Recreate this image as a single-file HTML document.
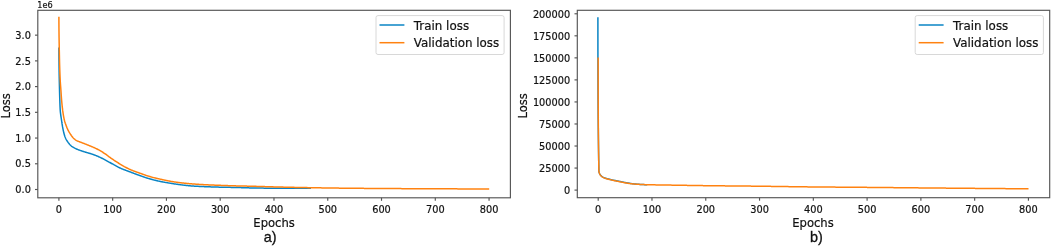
<!DOCTYPE html><html><head><meta charset="utf-8"><title>Loss curves</title><style>html,body{margin:0;padding:0;background:#fff}body{width:1052px;height:246px;overflow:hidden}</style></head><body><svg width="1052" height="246" viewBox="0 0 1052 246" style="display:block">
<rect width="1052" height="246" fill="#fff"/>
<g font-family="'DejaVu Sans','Liberation Sans',sans-serif" fill="#111" stroke="#111" stroke-width="0.2">
<polyline fill="none" stroke="#0a84c4" stroke-width="1.5" stroke-linejoin="round" points="58.90,47.60 58.90,48.10 58.90,48.60 58.90,49.10 58.91,49.60 58.91,50.10 58.91,50.60 58.91,51.10 58.92,51.60 58.92,52.10 58.92,52.60 58.92,53.10 58.93,53.60 58.93,54.10 58.93,54.60 58.94,55.10 58.94,55.60 58.95,56.10 58.95,56.60 58.96,57.10 58.96,57.60 58.96,58.10 58.97,58.60 58.97,59.10 58.98,59.60 58.98,60.10 58.99,60.60 58.99,61.10 59.00,61.60 59.01,62.10 59.01,62.60 59.02,63.10 59.02,63.60 59.03,64.10 59.03,64.60 59.04,65.10 59.05,65.60 59.05,66.10 59.06,66.60 59.06,67.10 59.07,67.60 59.08,68.10 59.08,68.60 59.09,69.10 59.09,69.60 59.10,70.10 59.11,70.60 59.11,71.10 59.12,71.60 59.13,72.10 59.14,72.60 59.15,73.10 59.15,73.60 59.16,74.10 59.17,74.60 59.18,75.10 59.19,75.60 59.20,76.10 59.21,76.60 59.22,77.10 59.23,77.60 59.24,78.10 59.25,78.60 59.27,79.10 59.28,79.60 59.29,80.10 59.30,80.60 59.31,81.10 59.32,81.60 59.33,82.10 59.34,82.60 59.36,83.10 59.37,83.60 59.38,84.10 59.39,84.60 59.40,85.10 59.41,85.60 59.43,86.10 59.44,86.60 59.45,87.10 59.46,87.60 59.47,88.10 59.48,88.60 59.50,89.10 59.51,89.59 59.52,90.09 59.53,90.59 59.55,91.09 59.56,91.59 59.57,92.09 59.58,92.59 59.60,93.09 59.61,93.59 59.62,94.09 59.64,94.59 59.65,95.09 59.67,95.59 59.68,96.09 59.69,96.59 59.71,97.09 59.72,97.59 59.74,98.09 59.75,98.59 59.77,99.09 59.79,99.59 59.80,100.09 59.82,100.59 59.84,101.09 59.85,101.59 59.87,102.09 59.88,102.59 59.90,103.09 59.92,103.59 59.94,104.09 59.95,104.59 59.97,105.09 59.99,105.59 60.01,106.09 60.03,106.59 60.06,107.09 60.08,107.59 60.10,108.09 60.13,108.59 60.16,109.09 60.19,109.58 60.22,110.08 60.25,110.58 60.30,111.08 60.34,111.57 60.39,112.07 60.45,112.57 60.51,113.06 60.57,113.56 60.63,114.06 60.70,114.55 60.77,115.05 60.84,115.54 60.91,116.04 60.99,116.53 61.06,117.03 61.14,117.52 61.21,118.02 61.28,118.51 61.36,119.01 61.43,119.51 61.50,120.00 61.57,120.50 61.64,120.99 61.71,121.49 61.78,121.98 61.85,122.48 61.93,122.97 62.00,123.47 62.08,123.96 62.16,124.45 62.24,124.95 62.32,125.44 62.40,125.93 62.49,126.42 62.57,126.92 62.66,127.41 62.76,127.90 62.85,128.39 62.95,128.88 63.05,129.38 63.15,129.87 63.25,130.36 63.36,130.84 63.47,131.33 63.58,131.82 63.70,132.30 63.82,132.79 63.94,133.27 64.07,133.75 64.21,134.24 64.35,134.72 64.49,135.20 64.64,135.68 64.80,136.16 64.97,136.63 65.14,137.10 65.32,137.56 65.51,138.02 65.71,138.47 65.93,138.92 66.16,139.36 66.41,139.80 66.66,140.24 66.93,140.67 67.20,141.09 67.48,141.51 67.77,141.92 68.06,142.32 68.35,142.72 68.66,143.12 68.98,143.52 69.30,143.91 69.63,144.30 69.97,144.68 70.32,145.04 70.68,145.39 71.04,145.73 71.41,146.05 71.79,146.35 72.18,146.64 72.59,146.91 73.01,147.18 73.44,147.45 73.88,147.70 74.33,147.94 74.78,148.18 75.23,148.41 75.69,148.63 76.14,148.84 76.59,149.04 77.05,149.24 77.51,149.43 77.97,149.62 78.43,149.80 78.90,149.97 79.37,150.14 79.84,150.31 80.32,150.47 80.79,150.63 81.27,150.79 81.75,150.95 82.22,151.10 82.70,151.26 83.18,151.41 83.66,151.56 84.14,151.72 84.61,151.87 85.09,152.03 85.56,152.18 86.04,152.32 86.52,152.47 87.00,152.61 87.48,152.75 87.96,152.89 88.45,153.02 88.93,153.16 89.41,153.30 89.89,153.44 90.37,153.59 90.85,153.73 91.32,153.88 91.80,154.03 92.27,154.19 92.74,154.35 93.21,154.51 93.68,154.68 94.15,154.85 94.62,155.03 95.09,155.21 95.55,155.39 96.02,155.58 96.48,155.77 96.95,155.96 97.41,156.15 97.87,156.35 98.33,156.55 98.79,156.75 99.24,156.96 99.70,157.16 100.15,157.37 100.60,157.58 101.05,157.80 101.50,158.01 101.95,158.24 102.39,158.46 102.83,158.69 103.28,158.92 103.72,159.16 104.16,159.39 104.60,159.63 105.04,159.87 105.48,160.11 105.92,160.35 106.36,160.60 106.80,160.84 107.23,161.08 107.67,161.32 108.11,161.57 108.55,161.81 108.99,162.05 109.43,162.29 109.87,162.52 110.31,162.76 110.75,163.00 111.19,163.23 111.63,163.48 112.07,163.72 112.50,163.96 112.94,164.21 113.38,164.45 113.82,164.70 114.25,164.95 114.69,165.19 115.13,165.44 115.56,165.68 116.00,165.92 116.44,166.16 116.88,166.40 117.32,166.63 117.77,166.86 118.21,167.09 118.66,167.32 119.10,167.54 119.55,167.75 120.00,167.96 120.46,168.17 120.91,168.37 121.37,168.57 121.83,168.76 122.29,168.96 122.75,169.14 123.21,169.33 123.68,169.51 124.14,169.69 124.61,169.87 125.08,170.05 125.55,170.23 126.02,170.40 126.49,170.58 126.96,170.75 127.43,170.93 127.90,171.10 128.37,171.27 128.84,171.45 129.31,171.62 129.77,171.80 130.24,171.98 130.71,172.16 131.18,172.33 131.64,172.51 132.11,172.69 132.58,172.87 133.04,173.05 133.51,173.23 133.98,173.41 134.45,173.59 134.91,173.76 135.38,173.94 135.85,174.12 136.32,174.29 136.79,174.47 137.25,174.64 137.72,174.81 138.19,174.98 138.66,175.15 139.13,175.32 139.60,175.49 140.08,175.66 140.55,175.82 141.02,175.99 141.49,176.15 141.96,176.32 142.44,176.48 142.91,176.64 143.38,176.81 143.86,176.97 144.33,177.13 144.81,177.29 145.28,177.45 145.76,177.60 146.23,177.76 146.71,177.91 147.18,178.07 147.66,178.22 148.14,178.36 148.62,178.51 149.09,178.65 149.57,178.79 150.05,178.93 150.53,179.07 151.01,179.20 151.50,179.33 151.98,179.46 152.46,179.59 152.95,179.72 153.43,179.85 153.91,179.97 154.40,180.10 154.88,180.22 155.37,180.34 155.86,180.46 156.34,180.57 156.83,180.69 157.32,180.80 157.81,180.92 158.29,181.03 158.78,181.13 159.27,181.24 159.76,181.35 160.25,181.45 160.74,181.55 161.23,181.65 161.72,181.74 162.21,181.84 162.70,181.93 163.19,182.02 163.68,182.12 164.17,182.20 164.66,182.29 165.16,182.38 165.65,182.47 166.14,182.55 166.64,182.63 167.13,182.72 167.62,182.80 168.12,182.88 168.61,182.96 169.10,183.04 169.60,183.12 170.09,183.20 170.59,183.28 171.08,183.36 171.57,183.44 172.07,183.52 172.56,183.60 173.05,183.67 173.55,183.75 174.04,183.83 174.54,183.90 175.03,183.98 175.53,184.05 176.02,184.13 176.52,184.20 177.01,184.27 177.51,184.34 178.00,184.41 178.50,184.48 178.99,184.55 179.49,184.62 179.98,184.68 180.48,184.75 180.97,184.81 181.47,184.87 181.97,184.93 182.46,184.99 182.96,185.06 183.45,185.12 183.95,185.18 184.45,185.24 184.94,185.30 185.44,185.35 185.94,185.41 186.44,185.47 186.93,185.52 187.43,185.57 187.93,185.62 188.43,185.67 188.92,185.72 189.42,185.77 189.92,185.81 190.42,185.85 190.91,185.89 191.41,185.93 191.91,185.97 192.41,186.00 192.91,186.04 193.41,186.07 193.91,186.10 194.40,186.14 194.90,186.17 195.40,186.20 195.90,186.23 196.40,186.25 196.90,186.28 197.40,186.31 197.90,186.34 198.40,186.36 198.90,186.39 199.40,186.41 199.90,186.44 200.40,186.46 200.90,186.49 201.40,186.51 201.90,186.53 202.40,186.55 202.89,186.58 203.39,186.60 203.89,186.62 204.39,186.64 204.89,186.66 205.39,186.68 205.89,186.70 206.39,186.72 206.89,186.74 207.39,186.76 207.89,186.78 208.39,186.80 208.89,186.81 209.39,186.83 209.89,186.85 210.39,186.87 210.89,186.88 211.39,186.90 211.89,186.92 212.39,186.93 212.89,186.95 213.39,186.97 213.89,186.98 214.39,187.00 214.89,187.01 215.39,187.03 215.89,187.04 216.39,187.06 216.89,187.07 217.39,187.09 217.89,187.10 218.39,187.12 218.89,187.13 219.39,187.14 219.89,187.16 220.38,187.17 220.88,187.18 221.38,187.19 221.88,187.21 222.38,187.22 222.88,187.23 223.38,187.24 223.88,187.25 224.38,187.26 224.88,187.27 225.38,187.28 225.88,187.29 226.38,187.30 226.88,187.31 227.38,187.32 227.88,187.33 228.38,187.33 228.88,187.34 229.38,187.35 229.88,187.36 230.38,187.37 230.88,187.38 231.38,187.39 231.88,187.40 232.38,187.40 232.88,187.41 233.38,187.42 233.88,187.43 234.38,187.44 234.88,187.45 235.38,187.46 235.88,187.47 236.38,187.49 236.88,187.50 237.38,187.51 237.88,187.52 238.38,187.54 238.88,187.55 239.38,187.56 239.88,187.58 240.38,187.60 240.88,187.61 241.38,187.63 241.88,187.65 242.38,187.66 242.88,187.68 243.38,187.70 243.88,187.71 244.38,187.73 244.88,187.75 245.38,187.76 245.88,187.78 246.38,187.80 246.88,187.81 247.38,187.83 247.88,187.84 248.38,187.85 248.88,187.87 249.38,187.88 249.88,187.89 250.38,187.90 250.88,187.91 251.38,187.92 251.88,187.93 252.38,187.94 252.87,187.95 253.37,187.96 253.87,187.97 254.37,187.98 254.87,187.99 255.37,188.00 255.87,188.01 256.37,188.02 256.87,188.02 257.37,188.03 257.87,188.04 258.37,188.05 258.87,188.06 259.37,188.07 259.87,188.07 260.37,188.08 260.87,188.09 261.37,188.10 261.87,188.10 262.37,188.11 262.87,188.12 263.37,188.12 263.87,188.13 264.37,188.14 264.87,188.14 265.37,188.15 265.87,188.15 266.37,188.16 266.87,188.17 267.37,188.17 267.87,188.18 268.37,188.18 268.87,188.19 269.37,188.19 269.87,188.19 270.37,188.20 270.87,188.20 271.37,188.20 271.87,188.21 272.37,188.21 272.87,188.22 273.37,188.22 273.87,188.22 274.37,188.23 274.87,188.23 275.37,188.23 275.87,188.23 276.37,188.24 276.87,188.24 277.37,188.24 277.87,188.25 278.37,188.25 278.87,188.25 279.37,188.25 279.87,188.26 280.37,188.26 280.87,188.26 281.37,188.26 281.87,188.27 282.37,188.27 282.87,188.27 283.37,188.27 283.87,188.27 284.37,188.28 284.87,188.28 285.37,188.28 285.87,188.28 286.37,188.28 286.87,188.29 287.37,188.29 287.87,188.29 288.37,188.29 288.87,188.29 289.37,188.29 289.87,188.30 290.37,188.30 290.87,188.30 291.37,188.30 291.87,188.30 292.37,188.30 292.87,188.31 293.37,188.31 293.87,188.31 294.37,188.31 294.87,188.31 295.37,188.31 295.87,188.32 296.37,188.32 296.87,188.32 297.37,188.32 297.87,188.32 298.37,188.32 298.87,188.32 299.37,188.33 299.87,188.33 300.37,188.33 300.87,188.33 301.37,188.33 301.87,188.33 302.37,188.33 302.87,188.33 303.37,188.34 303.87,188.34 304.37,188.34 304.87,188.34 305.37,188.34 305.87,188.34 306.37,188.34 306.87,188.34 307.37,188.34 307.87,188.35 308.37,188.35 308.87,188.35 309.37,188.35 309.87,188.35 310.37,188.35 310.87,188.35 311.00,188.35"/>
<polyline fill="none" stroke="#ff8210" stroke-width="1.5" stroke-linejoin="round" points="58.90,16.80 58.90,17.30 58.90,17.80 58.90,18.30 58.90,18.80 58.90,19.30 58.90,19.80 58.91,20.30 58.91,20.80 58.91,21.30 58.91,21.80 58.91,22.30 58.92,22.80 58.92,23.30 58.92,23.80 58.93,24.30 58.93,24.80 58.93,25.30 58.94,25.80 58.94,26.30 58.94,26.80 58.95,27.30 58.95,27.80 58.96,28.30 58.96,28.80 58.97,29.30 58.97,29.80 58.98,30.30 58.98,30.80 58.99,31.30 59.00,31.80 59.00,32.30 59.01,32.80 59.01,33.30 59.02,33.80 59.03,34.30 59.03,34.80 59.04,35.30 59.05,35.80 59.05,36.30 59.06,36.80 59.07,37.30 59.08,37.80 59.09,38.30 59.09,38.80 59.10,39.30 59.11,39.80 59.12,40.30 59.13,40.80 59.13,41.30 59.14,41.80 59.15,42.30 59.16,42.80 59.17,43.30 59.18,43.80 59.19,44.30 59.20,44.80 59.20,45.30 59.21,45.80 59.22,46.30 59.23,46.80 59.24,47.30 59.25,47.80 59.26,48.30 59.27,48.80 59.28,49.30 59.29,49.80 59.30,50.30 59.31,50.80 59.32,51.30 59.33,51.80 59.34,52.30 59.35,52.80 59.36,53.30 59.37,53.80 59.38,54.30 59.39,54.80 59.40,55.30 59.41,55.80 59.42,56.30 59.43,56.80 59.44,57.30 59.45,57.80 59.46,58.30 59.47,58.80 59.49,59.30 59.50,59.80 59.51,60.30 59.52,60.80 59.53,61.30 59.54,61.80 59.55,62.30 59.56,62.79 59.58,63.29 59.59,63.79 59.60,64.29 59.62,64.79 59.63,65.29 59.65,65.79 59.66,66.29 59.68,66.79 59.69,67.29 59.71,67.79 59.72,68.29 59.74,68.79 59.76,69.29 59.77,69.79 59.79,70.29 59.81,70.79 59.83,71.29 59.85,71.79 59.87,72.29 59.88,72.79 59.90,73.29 59.92,73.79 59.94,74.29 59.97,74.79 59.99,75.29 60.01,75.79 60.03,76.29 60.05,76.79 60.07,77.29 60.10,77.79 60.12,78.29 60.14,78.79 60.17,79.28 60.19,79.78 60.21,80.28 60.24,80.78 60.27,81.28 60.30,81.78 60.33,82.28 60.36,82.78 60.40,83.28 60.43,83.78 60.47,84.27 60.51,84.77 60.54,85.27 60.58,85.77 60.62,86.27 60.66,86.77 60.70,87.27 60.74,87.76 60.77,88.26 60.81,88.76 60.85,89.26 60.88,89.76 60.92,90.26 60.95,90.76 60.99,91.26 61.02,91.76 61.05,92.25 61.09,92.75 61.12,93.25 61.15,93.75 61.18,94.25 61.22,94.75 61.25,95.25 61.28,95.75 61.32,96.25 61.35,96.74 61.39,97.24 61.42,97.74 61.46,98.24 61.50,98.74 61.54,99.24 61.58,99.74 61.62,100.23 61.66,100.73 61.70,101.23 61.75,101.73 61.79,102.23 61.84,102.72 61.88,103.22 61.93,103.72 61.98,104.22 62.03,104.72 62.08,105.22 62.13,105.71 62.18,106.21 62.23,106.71 62.29,107.20 62.35,107.70 62.40,108.20 62.46,108.69 62.52,109.19 62.59,109.68 62.65,110.18 62.71,110.68 62.78,111.17 62.85,111.67 62.92,112.16 62.99,112.66 63.07,113.16 63.14,113.65 63.22,114.15 63.30,114.64 63.38,115.14 63.47,115.63 63.56,116.12 63.65,116.62 63.74,117.11 63.84,117.60 63.93,118.09 64.04,118.58 64.14,119.06 64.25,119.55 64.36,120.03 64.48,120.52 64.61,121.00 64.74,121.48 64.89,121.96 65.04,122.43 65.20,122.91 65.36,123.39 65.53,123.86 65.70,124.33 65.86,124.80 66.03,125.27 66.21,125.74 66.38,126.21 66.56,126.68 66.74,127.15 66.93,127.61 67.12,128.08 67.32,128.54 67.52,128.99 67.73,129.44 67.94,129.89 68.17,130.34 68.40,130.78 68.64,131.22 68.88,131.65 69.14,132.09 69.40,132.52 69.66,132.95 69.93,133.37 70.20,133.79 70.47,134.21 70.75,134.62 71.03,135.04 71.31,135.46 71.60,135.87 71.89,136.29 72.19,136.69 72.50,137.09 72.81,137.47 73.14,137.84 73.49,138.19 73.85,138.53 74.22,138.87 74.61,139.20 75.01,139.51 75.42,139.81 75.83,140.10 76.25,140.36 76.68,140.60 77.11,140.82 77.56,141.03 78.02,141.22 78.49,141.41 78.96,141.59 79.43,141.76 79.91,141.94 80.38,142.11 80.85,142.29 81.32,142.47 81.79,142.65 82.25,142.84 82.72,143.02 83.18,143.20 83.65,143.38 84.12,143.56 84.58,143.74 85.05,143.92 85.52,144.10 85.98,144.28 86.45,144.46 86.92,144.64 87.38,144.83 87.84,145.01 88.31,145.20 88.77,145.39 89.23,145.58 89.69,145.77 90.16,145.96 90.62,146.15 91.08,146.34 91.55,146.54 92.01,146.73 92.47,146.92 92.93,147.12 93.39,147.32 93.85,147.52 94.31,147.72 94.76,147.93 95.22,148.14 95.67,148.35 96.12,148.56 96.57,148.78 97.01,149.01 97.45,149.23 97.90,149.46 98.34,149.70 98.78,149.94 99.21,150.18 99.65,150.42 100.09,150.67 100.52,150.92 100.95,151.18 101.38,151.43 101.81,151.69 102.24,151.96 102.66,152.22 103.09,152.49 103.51,152.76 103.93,153.03 104.35,153.30 104.77,153.58 105.18,153.85 105.59,154.14 106.00,154.43 106.40,154.72 106.80,155.02 107.20,155.33 107.59,155.63 107.99,155.94 108.38,156.25 108.78,156.55 109.18,156.86 109.58,157.15 109.99,157.45 110.39,157.74 110.80,158.02 111.21,158.31 111.62,158.59 112.04,158.88 112.45,159.16 112.86,159.44 113.28,159.72 113.69,160.00 114.11,160.28 114.52,160.56 114.94,160.84 115.36,161.11 115.78,161.38 116.20,161.66 116.62,161.93 117.04,162.20 117.46,162.46 117.89,162.73 118.31,162.99 118.74,163.26 119.16,163.52 119.59,163.78 120.02,164.03 120.45,164.29 120.88,164.54 121.31,164.80 121.74,165.05 122.17,165.30 122.60,165.56 123.04,165.81 123.47,166.06 123.91,166.31 124.34,166.56 124.78,166.80 125.22,167.05 125.66,167.29 126.10,167.53 126.54,167.76 126.99,167.99 127.43,168.22 127.88,168.45 128.32,168.67 128.77,168.89 129.22,169.11 129.67,169.32 130.12,169.52 130.58,169.72 131.04,169.92 131.49,170.11 131.96,170.30 132.42,170.49 132.88,170.67 133.35,170.85 133.82,171.03 134.28,171.20 134.75,171.38 135.23,171.55 135.70,171.72 136.17,171.89 136.64,172.05 137.12,172.22 137.59,172.39 138.06,172.55 138.54,172.72 139.01,172.88 139.48,173.05 139.95,173.21 140.42,173.38 140.90,173.55 141.37,173.72 141.84,173.88 142.31,174.05 142.78,174.22 143.25,174.39 143.72,174.56 144.20,174.72 144.67,174.89 145.14,175.05 145.61,175.22 146.09,175.38 146.56,175.54 147.04,175.69 147.51,175.85 147.99,176.00 148.46,176.15 148.94,176.30 149.42,176.44 149.90,176.58 150.38,176.72 150.86,176.86 151.34,176.99 151.82,177.12 152.30,177.25 152.79,177.37 153.27,177.50 153.76,177.62 154.24,177.74 154.73,177.86 155.21,177.98 155.70,178.10 156.19,178.21 156.67,178.33 157.16,178.44 157.65,178.55 158.14,178.67 158.63,178.78 159.11,178.89 159.60,179.00 160.09,179.11 160.58,179.22 161.07,179.33 161.55,179.44 162.04,179.54 162.53,179.65 163.02,179.76 163.51,179.87 164.00,179.97 164.48,180.08 164.97,180.18 165.46,180.29 165.95,180.39 166.44,180.49 166.93,180.59 167.42,180.69 167.91,180.79 168.40,180.88 168.90,180.98 169.39,181.07 169.88,181.16 170.37,181.24 170.86,181.33 171.36,181.41 171.85,181.49 172.34,181.58 172.83,181.66 173.33,181.74 173.82,181.82 174.32,181.89 174.81,181.97 175.31,182.04 175.80,182.12 176.30,182.19 176.79,182.26 177.29,182.33 177.78,182.40 178.28,182.47 178.77,182.53 179.27,182.60 179.76,182.66 180.26,182.72 180.76,182.78 181.25,182.84 181.75,182.90 182.25,182.96 182.74,183.01 183.24,183.07 183.74,183.12 184.23,183.17 184.73,183.22 185.23,183.27 185.73,183.32 186.22,183.37 186.72,183.42 187.22,183.47 187.72,183.52 188.22,183.56 188.71,183.61 189.21,183.65 189.71,183.69 190.21,183.73 190.71,183.78 191.21,183.82 191.70,183.86 192.20,183.90 192.70,183.93 193.20,183.97 193.70,184.01 194.20,184.05 194.70,184.08 195.19,184.12 195.69,184.15 196.19,184.19 196.69,184.22 197.19,184.25 197.69,184.29 198.19,184.32 198.69,184.35 199.19,184.38 199.68,184.41 200.18,184.44 200.68,184.47 201.18,184.50 201.68,184.53 202.18,184.56 202.68,184.58 203.18,184.61 203.68,184.64 204.18,184.66 204.68,184.69 205.18,184.71 205.68,184.74 206.18,184.76 206.67,184.79 207.17,184.81 207.67,184.83 208.17,184.86 208.67,184.88 209.17,184.90 209.67,184.92 210.17,184.95 210.67,184.97 211.17,184.99 211.67,185.01 212.17,185.03 212.67,185.05 213.17,185.08 213.67,185.10 214.17,185.12 214.67,185.14 215.17,185.16 215.67,185.18 216.17,185.20 216.67,185.22 217.17,185.24 217.66,185.25 218.16,185.27 218.66,185.29 219.16,185.31 219.66,185.33 220.16,185.35 220.66,185.37 221.16,185.38 221.66,185.40 222.16,185.42 222.66,185.44 223.16,185.46 223.66,185.47 224.16,185.49 224.66,185.51 225.16,185.53 225.66,185.54 226.16,185.56 226.66,185.58 227.16,185.60 227.66,185.61 228.16,185.63 228.66,185.65 229.16,185.66 229.66,185.68 230.16,185.70 230.66,185.71 231.16,185.73 231.66,185.74 232.16,185.76 232.66,185.78 233.16,185.79 233.66,185.81 234.16,185.82 234.65,185.83 235.15,185.85 235.65,185.86 236.15,185.88 236.65,185.89 237.15,185.90 237.65,185.92 238.15,185.93 238.65,185.94 239.15,185.95 239.65,185.97 240.15,185.98 240.65,185.99 241.15,186.00 241.65,186.01 242.15,186.02 242.65,186.03 243.15,186.04 243.65,186.05 244.15,186.06 244.65,186.07 245.15,186.08 245.65,186.09 246.15,186.10 246.65,186.12 247.15,186.13 247.65,186.14 248.15,186.15 248.65,186.16 249.15,186.17 249.65,186.18 250.15,186.20 250.65,186.21 251.15,186.22 251.65,186.24 252.15,186.25 252.65,186.26 253.15,186.28 253.65,186.29 254.15,186.30 254.65,186.32 255.15,186.33 255.65,186.35 256.15,186.36 256.65,186.38 257.15,186.39 257.65,186.41 258.15,186.42 258.65,186.44 259.15,186.45 259.65,186.47 260.15,186.49 260.65,186.50 261.15,186.52 261.65,186.53 262.15,186.55 262.65,186.56 263.15,186.58 263.64,186.59 264.14,186.61 264.64,186.62 265.14,186.64 265.64,186.65 266.14,186.67 266.64,186.68 267.14,186.70 267.64,186.71 268.14,186.73 268.64,186.74 269.14,186.76 269.64,186.77 270.14,186.78 270.64,186.80 271.14,186.81 271.64,186.83 272.14,186.84 272.64,186.85 273.14,186.86 273.64,186.88 274.14,186.89 274.64,186.90 275.14,186.92 275.64,186.93 276.14,186.94 276.64,186.96 277.14,186.97 277.64,186.98 278.14,186.99 278.64,187.01 279.14,187.02 279.64,187.03 280.14,187.04 280.64,187.06 281.14,187.07 281.64,187.08 282.14,187.09 282.64,187.11 283.14,187.12 283.64,187.13 284.14,187.14 284.64,187.15 285.14,187.17 285.64,187.18 286.14,187.19 286.64,187.20 287.14,187.21 287.64,187.22 288.14,187.24 288.64,187.25 289.14,187.26 289.64,187.27 290.14,187.28 290.64,187.29 291.14,187.30 291.64,187.31 292.14,187.32 292.64,187.34 293.14,187.35 293.64,187.36 294.13,187.37 294.63,187.38 295.13,187.39 295.63,187.40 296.13,187.41 296.63,187.42 297.13,187.43 297.63,187.44 298.13,187.45 298.63,187.46 299.13,187.47 299.63,187.48 300.13,187.49 300.63,187.50 301.13,187.51 301.63,187.52 302.13,187.53 302.63,187.54 303.13,187.55 303.63,187.56 304.13,187.57 304.63,187.58 305.13,187.59 305.63,187.60 306.13,187.61 306.63,187.61 307.13,187.62 307.63,187.63 308.13,187.64 308.63,187.65 309.13,187.66 309.63,187.67 310.13,187.68 310.63,187.69 311.13,187.70 311.63,187.70 312.13,187.71 312.63,187.72 313.13,187.73 313.63,187.74 314.13,187.75 314.63,187.76 315.13,187.77 315.63,187.77 316.13,187.78 316.63,187.79 317.13,187.80 317.63,187.81 318.13,187.82 318.63,187.83 319.13,187.83 319.63,187.84 320.13,187.85 320.63,187.86 321.13,187.87 321.63,187.88 322.13,187.88 322.63,187.89 323.13,187.90 323.63,187.91 324.13,187.92 324.63,187.92 325.13,187.93 325.63,187.94 326.13,187.95 326.63,187.96 327.13,187.96 327.63,187.97 328.13,187.98 328.63,187.99 329.13,187.99 329.63,188.00 330.13,188.01 330.63,188.02 331.13,188.02 331.63,188.03 332.13,188.04 332.63,188.04 333.13,188.05 333.63,188.06 334.13,188.06 334.63,188.07 335.13,188.08 335.63,188.08 336.13,188.09 336.63,188.10 337.13,188.10 337.63,188.11 338.13,188.11 338.63,188.12 339.13,188.13 339.63,188.13 340.13,188.14 340.63,188.14 341.13,188.15 341.63,188.15 342.13,188.16 342.63,188.17 343.13,188.17 343.63,188.18 344.13,188.18 344.63,188.19 345.13,188.19 345.63,188.20 346.13,188.20 346.63,188.21 347.13,188.21 347.63,188.22 348.13,188.23 348.63,188.23 349.13,188.24 349.63,188.24 350.13,188.25 350.63,188.25 351.13,188.26 351.63,188.26 352.13,188.27 352.63,188.27 353.13,188.28 353.63,188.28 354.13,188.29 354.63,188.29 355.13,188.30 355.63,188.30 356.13,188.31 356.63,188.31 357.13,188.32 357.63,188.32 358.13,188.33 358.63,188.33 359.13,188.33 359.63,188.34 360.13,188.34 360.63,188.35 361.13,188.35 361.63,188.36 362.13,188.36 362.63,188.37 363.13,188.37 363.63,188.37 364.13,188.38 364.63,188.38 365.13,188.39 365.63,188.39 366.13,188.40 366.63,188.40 367.13,188.40 367.63,188.41 368.13,188.41 368.63,188.42 369.13,188.42 369.63,188.42 370.13,188.43 370.63,188.43 371.13,188.44 371.63,188.44 372.13,188.44 372.63,188.45 373.13,188.45 373.63,188.46 374.13,188.46 374.63,188.46 375.13,188.47 375.63,188.47 376.13,188.47 376.63,188.48 377.13,188.48 377.63,188.48 378.13,188.49 378.63,188.49 379.13,188.49 379.63,188.50 380.13,188.50 380.63,188.50 381.13,188.51 381.63,188.51 382.13,188.51 382.63,188.52 383.13,188.52 383.63,188.52 384.13,188.53 384.63,188.53 385.13,188.53 385.63,188.54 386.13,188.54 386.63,188.54 387.13,188.54 387.63,188.55 388.13,188.55 388.63,188.55 389.13,188.56 389.63,188.56 390.13,188.56 390.63,188.57 391.13,188.57 391.63,188.57 392.13,188.57 392.63,188.58 393.13,188.58 393.63,188.58 394.13,188.59 394.63,188.59 395.13,188.59 395.63,188.59 396.13,188.60 396.63,188.60 397.13,188.60 397.63,188.60 398.13,188.61 398.63,188.61 399.13,188.61 399.63,188.61 400.13,188.62 400.63,188.62 401.13,188.62 401.63,188.63 402.13,188.63 402.63,188.63 403.13,188.63 403.63,188.64 404.13,188.64 404.63,188.64 405.13,188.64 405.63,188.65 406.13,188.65 406.63,188.65 407.13,188.65 407.63,188.65 408.13,188.66 408.63,188.66 409.13,188.66 409.63,188.66 410.13,188.67 410.63,188.67 411.13,188.67 411.63,188.67 412.13,188.68 412.63,188.68 413.13,188.68 413.63,188.68 414.13,188.69 414.63,188.69 415.13,188.69 415.63,188.69 416.13,188.69 416.63,188.70 417.13,188.70 417.63,188.70 418.13,188.70 418.63,188.71 419.13,188.71 419.63,188.71 420.13,188.71 420.63,188.71 421.13,188.72 421.63,188.72 422.13,188.72 422.63,188.72 423.13,188.73 423.63,188.73 424.13,188.73 424.63,188.73 425.13,188.73 425.63,188.74 426.13,188.74 426.63,188.74 427.13,188.74 427.63,188.75 428.13,188.75 428.63,188.75 429.13,188.75 429.63,188.75 430.13,188.76 430.63,188.76 431.13,188.76 431.63,188.76 432.13,188.77 432.63,188.77 433.13,188.77 433.63,188.77 434.13,188.77 434.63,188.78 435.13,188.78 435.63,188.78 436.13,188.78 436.63,188.79 437.13,188.79 437.63,188.79 438.13,188.79 438.63,188.79 439.13,188.80 439.63,188.80 440.13,188.80 440.63,188.80 441.13,188.81 441.63,188.81 442.13,188.81 442.63,188.81 443.13,188.81 443.63,188.82 444.13,188.82 444.63,188.82 445.13,188.82 445.63,188.82 446.13,188.83 446.63,188.83 447.13,188.83 447.63,188.83 448.13,188.84 448.63,188.84 449.13,188.84 449.63,188.84 450.13,188.84 450.63,188.85 451.13,188.85 451.63,188.85 452.13,188.85 452.63,188.86 453.13,188.86 453.63,188.86 454.13,188.86 454.63,188.86 455.13,188.87 455.63,188.87 456.13,188.87 456.63,188.87 457.13,188.87 457.63,188.88 458.13,188.88 458.63,188.88 459.13,188.88 459.63,188.88 460.13,188.89 460.63,188.89 461.13,188.89 461.63,188.89 462.13,188.89 462.63,188.90 463.13,188.90 463.63,188.90 464.13,188.90 464.63,188.91 465.13,188.91 465.63,188.91 466.13,188.91 466.63,188.91 467.13,188.92 467.63,188.92 468.13,188.92 468.63,188.92 469.13,188.92 469.63,188.93 470.13,188.93 470.63,188.93 471.13,188.93 471.63,188.93 472.13,188.94 472.63,188.94 473.13,188.94 473.63,188.94 474.13,188.94 474.63,188.95 475.13,188.95 475.63,188.95 476.13,188.95 476.63,188.95 477.13,188.95 477.63,188.96 478.13,188.96 478.63,188.96 479.13,188.96 479.63,188.96 480.13,188.97 480.63,188.97 481.13,188.97 481.63,188.97 482.13,188.97 482.63,188.98 483.13,188.98 483.63,188.98 484.13,188.98 484.63,188.98 485.13,188.99 485.63,188.99 486.13,188.99 486.63,188.99 487.13,188.99 487.63,188.99 488.13,189.00 488.63,189.00 489.13,189.00 489.20,189.00"/>
<rect x="37.8" y="10.3" width="472.60" height="187.50" fill="none" stroke="#555555" stroke-width="1.15"/>
<line x1="58.90" y1="197.8" x2="58.90" y2="200.8" stroke="#555555" stroke-width="1.15"/>
<text x="58.90" y="212.55" font-size="9.78" text-anchor="middle">0</text>
<line x1="112.67" y1="197.8" x2="112.67" y2="200.8" stroke="#555555" stroke-width="1.15"/>
<text x="112.67" y="212.55" font-size="9.78" text-anchor="middle">100</text>
<line x1="166.44" y1="197.8" x2="166.44" y2="200.8" stroke="#555555" stroke-width="1.15"/>
<text x="166.44" y="212.55" font-size="9.78" text-anchor="middle">200</text>
<line x1="220.21" y1="197.8" x2="220.21" y2="200.8" stroke="#555555" stroke-width="1.15"/>
<text x="220.21" y="212.55" font-size="9.78" text-anchor="middle">300</text>
<line x1="273.98" y1="197.8" x2="273.98" y2="200.8" stroke="#555555" stroke-width="1.15"/>
<text x="273.98" y="212.55" font-size="9.78" text-anchor="middle">400</text>
<line x1="327.75" y1="197.8" x2="327.75" y2="200.8" stroke="#555555" stroke-width="1.15"/>
<text x="327.75" y="212.55" font-size="9.78" text-anchor="middle">500</text>
<line x1="381.52" y1="197.8" x2="381.52" y2="200.8" stroke="#555555" stroke-width="1.15"/>
<text x="381.52" y="212.55" font-size="9.78" text-anchor="middle">600</text>
<line x1="435.29" y1="197.8" x2="435.29" y2="200.8" stroke="#555555" stroke-width="1.15"/>
<text x="435.29" y="212.55" font-size="9.78" text-anchor="middle">700</text>
<line x1="489.06" y1="197.8" x2="489.06" y2="200.8" stroke="#555555" stroke-width="1.15"/>
<text x="489.06" y="212.55" font-size="9.78" text-anchor="middle">800</text>
<line x1="35.0" y1="189.50" x2="37.8" y2="189.50" stroke="#555555" stroke-width="1.15"/>
<text x="30.90" y="193.20" font-size="9.78" text-anchor="end">0.0</text>
<line x1="35.0" y1="163.78" x2="37.8" y2="163.78" stroke="#555555" stroke-width="1.15"/>
<text x="30.90" y="167.47" font-size="9.78" text-anchor="end">0.5</text>
<line x1="35.0" y1="138.05" x2="37.8" y2="138.05" stroke="#555555" stroke-width="1.15"/>
<text x="30.90" y="141.75" font-size="9.78" text-anchor="end">1.0</text>
<line x1="35.0" y1="112.32" x2="37.8" y2="112.32" stroke="#555555" stroke-width="1.15"/>
<text x="30.90" y="116.02" font-size="9.78" text-anchor="end">1.5</text>
<line x1="35.0" y1="86.60" x2="37.8" y2="86.60" stroke="#555555" stroke-width="1.15"/>
<text x="30.90" y="90.30" font-size="9.78" text-anchor="end">2.0</text>
<line x1="35.0" y1="60.88" x2="37.8" y2="60.88" stroke="#555555" stroke-width="1.15"/>
<text x="30.90" y="64.58" font-size="9.78" text-anchor="end">2.5</text>
<line x1="35.0" y1="35.15" x2="37.8" y2="35.15" stroke="#555555" stroke-width="1.15"/>
<text x="30.90" y="38.85" font-size="9.78" text-anchor="end">3.0</text>
<text x="274.10" y="227.15" font-size="11.6" text-anchor="middle">Epochs</text>
<text transform="translate(9.9,105.9) rotate(-90)" font-size="11.6" text-anchor="middle">Loss</text>
<rect x="376.0" y="15.6" width="128.10" height="38.9" rx="2" ry="2" fill="#fff" fill-opacity="0.8" stroke="#d8d8d8" stroke-width="1"/>
<line x1="379.50" y1="25" x2="404.40" y2="25" stroke="#0a84c4" stroke-width="1.5"/>
<line x1="379.50" y1="42.7" x2="404.40" y2="42.7" stroke="#ff8210" stroke-width="1.5"/>
<text x="413.80" y="29.9" font-size="11.9">Train loss</text>
<text x="413.80" y="47.4" font-size="11.9">Validation loss</text>
<polyline fill="none" stroke="#0a84c4" stroke-width="1.5" stroke-linejoin="round" points="597.90,17.20 597.90,17.72 597.90,18.24 597.90,18.76 597.90,19.27 597.90,19.79 597.90,20.31 597.90,20.83 597.90,21.35 597.90,21.86 597.90,22.38 597.90,22.90 597.90,23.42 597.90,23.93 597.90,24.45 597.90,24.97 597.90,25.48 597.90,26.00 597.90,26.52 597.90,27.03 597.90,27.55 597.90,28.06 597.90,28.58 597.90,29.10 597.90,29.61 597.90,30.13 597.90,30.64 597.90,31.16 597.90,31.67 597.90,32.18 597.90,32.70 597.90,33.21 597.90,33.73 597.90,34.24 597.90,34.76 597.90,35.27 597.90,35.78 597.90,36.30 597.90,36.81 597.90,37.32 597.90,37.83 597.90,38.35 597.91,38.86 597.91,39.37 597.91,39.89 597.91,40.40 597.91,40.91 597.91,41.42 597.91,41.93 597.91,42.44 597.91,42.96 597.91,43.47 597.91,43.98 597.91,44.49 597.91,45.00 597.91,45.51 597.91,46.02 597.91,46.53 597.91,47.04 597.91,47.55 597.91,48.06 597.91,48.57 597.91,49.08 597.91,49.59 597.91,50.10 597.91,50.61 597.92,51.12 597.92,51.63 597.92,52.14 597.92,52.65 597.92,53.15 597.92,53.66 597.92,54.17 597.92,54.68 597.92,55.19 597.92,55.70 597.92,56.20 597.92,56.71 597.92,57.22 597.92,57.73 597.93,58.23 597.93,58.74 597.93,59.25 597.93,59.75 597.93,60.26 597.93,60.77 597.93,61.27 597.93,61.78 597.93,62.29 597.93,62.79 597.93,63.30 597.94,63.80 597.94,64.31 597.94,64.82 597.94,65.32 597.94,65.83 597.94,66.33 597.94,66.84 597.94,67.34 597.94,67.85 597.95,68.35 597.95,68.86 597.95,69.36 597.95,69.86 597.95,70.37 597.95,70.87 597.95,71.38 597.95,71.88 597.96,72.38 597.96,72.89 597.96,73.39 597.96,73.90 597.96,74.40 597.96,74.90 597.96,75.40 597.97,75.91 597.97,76.41 597.97,76.91 597.97,77.42 597.97,77.92 597.97,78.42 597.98,78.92 597.98,79.42 597.98,79.93 597.98,80.43 597.98,80.93 597.98,81.43 597.99,81.93 597.99,82.43 597.99,82.94 597.99,83.44 597.99,83.94 598.00,84.44 598.00,84.94 598.00,85.44 598.00,85.94 598.00,86.44 598.01,86.94 598.01,87.44 598.01,87.94 598.01,88.44 598.01,88.94 598.02,89.44 598.02,89.94 598.02,90.44 598.02,90.94 598.03,91.44 598.03,91.94 598.03,92.44 598.03,92.94 598.03,93.44 598.04,93.93 598.04,94.43 598.04,94.93 598.04,95.43 598.05,95.93 598.05,96.43 598.05,96.93 598.06,97.42 598.06,97.92 598.06,98.42 598.06,98.92 598.07,99.41 598.07,99.91 598.07,100.41 598.07,100.91 598.08,101.40 598.08,101.90 598.08,102.40 598.09,102.90 598.09,103.39 598.09,103.89 598.10,104.39 598.10,104.88 598.10,105.38 598.11,105.88 598.11,106.37 598.11,106.87 598.12,107.36 598.12,107.86 598.12,108.36 598.13,108.85 598.13,109.35 598.13,109.84 598.14,110.34 598.14,110.83 598.14,111.33 598.15,111.83 598.15,112.32 598.15,112.82 598.16,113.31 598.16,113.81 598.17,114.30 598.17,114.80 598.17,115.29 598.18,115.78 598.18,116.28 598.18,116.77 598.19,117.27 598.19,117.76 598.20,118.26 598.20,118.75 598.21,119.24 598.21,119.74 598.21,120.23 598.22,120.73 598.22,121.22 598.23,121.71 598.23,122.21 598.24,122.70 598.24,123.19 598.24,123.69 598.25,124.18 598.25,124.67 598.26,125.17 598.26,125.66 598.27,126.15 598.27,126.64 598.28,127.14 598.28,127.63 598.29,128.12 598.29,128.61 598.30,129.11 598.30,129.60 598.31,130.09 598.31,130.58 598.32,131.08 598.32,131.57 598.33,132.06 598.33,132.55 598.34,133.04 598.34,133.53 598.35,134.03 598.35,134.52 598.36,135.01 598.37,135.50 598.37,135.99 598.38,136.48 598.38,136.97 598.39,137.46 598.39,137.96 598.40,138.45 598.41,138.94 598.41,139.43 598.42,139.92 598.42,140.41 598.43,140.90 598.44,141.39 598.44,141.88 598.45,142.37 598.45,142.86 598.46,143.35 598.47,143.84 598.47,144.33 598.48,144.82 598.49,145.31 598.49,145.80 598.50,146.29 598.50,146.78 598.51,147.27 598.52,147.76 598.52,148.25 598.53,148.74 598.54,149.23 598.55,149.72 598.55,150.21 598.56,150.70 598.57,151.19 598.57,151.68 598.58,152.17 598.59,152.66 598.59,153.14 598.60,153.63 598.61,154.12 598.62,154.61 598.62,155.10 598.63,155.59 598.64,156.08 598.65,156.57 598.65,157.05 598.66,157.54 598.67,158.03 598.68,158.52 598.69,159.01 598.69,159.50 598.70,159.98 598.71,160.47 598.72,160.96 598.73,161.45 598.73,161.94 598.74,162.42 598.75,162.91 598.76,163.40 598.77,163.89 598.77,164.38 598.78,164.86 598.79,165.35 598.80,165.84 598.81,166.33 598.82,166.81 598.83,167.30 598.84,167.79 598.84,168.28 598.85,168.76 598.86,169.25 598.87,169.74 598.88,170.23 598.89,170.71 598.90,171.20 598.95,171.69 599.10,172.17 599.28,172.65 599.46,173.11 599.67,173.57 599.91,174.03 600.17,174.48 600.45,174.90 600.74,175.30 601.05,175.65 601.39,175.99 601.77,176.31 602.18,176.62 602.61,176.91 603.06,177.18 603.51,177.41 603.95,177.62 604.40,177.81 604.85,177.98 605.32,178.15 605.79,178.30 606.27,178.45 606.75,178.59 607.24,178.72 607.73,178.85 608.22,178.98 608.72,179.10 609.21,179.21 609.70,179.33 610.19,179.45 610.68,179.57 611.16,179.68 611.65,179.79 612.14,179.90 612.62,180.01 613.11,180.11 613.60,180.21 614.09,180.31 614.58,180.41 615.07,180.51 615.57,180.60 616.06,180.70 616.55,180.80 617.04,180.89 617.53,180.99 618.02,181.08 618.51,181.18 619.00,181.28 619.49,181.38 619.98,181.48 620.47,181.58 620.96,181.68 621.45,181.78 621.94,181.88 622.43,181.98 622.92,182.08 623.41,182.18 623.90,182.27 624.40,182.37 624.89,182.46 625.38,182.55 625.87,182.64 626.36,182.73 626.85,182.81 627.35,182.89 627.84,182.98 628.33,183.06 628.83,183.14 629.32,183.23 629.82,183.31 630.31,183.39 630.80,183.47 631.30,183.55 631.79,183.62 632.29,183.69 632.78,183.76 633.28,183.82 633.78,183.88 634.27,183.93 634.77,183.98 635.27,184.02 635.76,184.06 636.26,184.11 636.76,184.15 637.26,184.19 637.75,184.23 638.25,184.27 638.75,184.31 639.25,184.34 639.75,184.38 640.24,184.42 640.74,184.45 641.24,184.48 641.74,184.51 642.24,184.54 642.74,184.57 643.24,184.59 643.74,184.61 644.24,184.63 644.74,184.65 645.24,184.67 645.74,184.68 646.24,184.69 646.75,184.70 647.20,184.70"/>
<polyline fill="none" stroke="#ff8210" stroke-width="1.5" stroke-linejoin="round" points="598.16,57.40 598.16,57.92 598.16,58.44 598.16,58.96 598.16,59.47 598.16,59.99 598.16,60.51 598.16,61.03 598.16,61.54 598.16,62.06 598.16,62.58 598.16,63.10 598.16,63.61 598.16,64.13 598.16,64.64 598.16,65.16 598.16,65.68 598.16,66.19 598.16,66.71 598.16,67.22 598.16,67.74 598.16,68.25 598.16,68.77 598.16,69.28 598.16,69.79 598.16,70.31 598.16,70.82 598.16,71.33 598.16,71.85 598.16,72.36 598.16,72.87 598.16,73.39 598.16,73.90 598.16,74.41 598.16,74.92 598.17,75.43 598.17,75.95 598.17,76.46 598.17,76.97 598.17,77.48 598.17,77.99 598.17,78.50 598.17,79.01 598.17,79.52 598.17,80.03 598.17,80.54 598.17,81.05 598.17,81.56 598.17,82.07 598.17,82.58 598.17,83.09 598.17,83.60 598.17,84.11 598.17,84.61 598.18,85.12 598.18,85.63 598.18,86.14 598.18,86.65 598.18,87.15 598.18,87.66 598.18,88.17 598.18,88.68 598.18,89.18 598.18,89.69 598.18,90.20 598.18,90.70 598.19,91.21 598.19,91.71 598.19,92.22 598.19,92.72 598.19,93.23 598.19,93.74 598.19,94.24 598.19,94.75 598.19,95.25 598.20,95.75 598.20,96.26 598.20,96.76 598.20,97.27 598.20,97.77 598.20,98.27 598.20,98.78 598.20,99.28 598.21,99.78 598.21,100.29 598.21,100.79 598.21,101.29 598.21,101.80 598.21,102.30 598.22,102.80 598.22,103.30 598.22,103.81 598.22,104.31 598.22,104.81 598.22,105.31 598.23,105.81 598.23,106.31 598.23,106.81 598.23,107.31 598.23,107.82 598.24,108.32 598.24,108.82 598.24,109.32 598.24,109.82 598.24,110.32 598.25,110.82 598.25,111.32 598.25,111.82 598.25,112.32 598.26,112.81 598.26,113.31 598.26,113.81 598.26,114.31 598.27,114.81 598.27,115.31 598.27,115.81 598.27,116.31 598.28,116.80 598.28,117.30 598.28,117.80 598.28,118.30 598.29,118.79 598.29,119.29 598.29,119.79 598.30,120.29 598.30,120.78 598.30,121.28 598.30,121.78 598.31,122.27 598.31,122.77 598.31,123.27 598.32,123.76 598.32,124.26 598.32,124.76 598.33,125.25 598.33,125.75 598.33,126.24 598.34,126.74 598.34,127.23 598.35,127.73 598.35,128.22 598.35,128.72 598.36,129.21 598.36,129.71 598.36,130.20 598.37,130.70 598.37,131.19 598.38,131.69 598.38,132.18 598.38,132.67 598.39,133.17 598.39,133.66 598.40,134.16 598.40,134.65 598.41,135.14 598.41,135.64 598.41,136.13 598.42,136.62 598.42,137.12 598.43,137.61 598.43,138.10 598.44,138.60 598.44,139.09 598.45,139.58 598.45,140.07 598.46,140.56 598.46,141.06 598.47,141.55 598.47,142.04 598.48,142.53 598.48,143.03 598.49,143.52 598.49,144.01 598.50,144.50 598.51,144.99 598.51,145.48 598.52,145.97 598.52,146.46 598.53,146.96 598.53,147.45 598.54,147.94 598.55,148.43 598.55,148.92 598.56,149.41 598.56,149.90 598.57,150.39 598.58,150.88 598.58,151.37 598.59,151.86 598.60,152.35 598.60,152.84 598.61,153.33 598.61,153.82 598.62,154.31 598.63,154.80 598.63,155.29 598.64,155.78 598.65,156.27 598.66,156.76 598.66,157.25 598.67,157.74 598.68,158.22 598.68,158.71 598.69,159.20 598.70,159.69 598.71,160.18 598.71,160.67 598.72,161.16 598.73,161.65 598.74,162.13 598.75,162.62 598.75,163.11 598.76,163.60 598.77,164.09 598.78,164.57 598.79,165.06 598.79,165.55 598.80,166.04 598.81,166.53 598.82,167.01 598.83,167.50 598.84,167.99 598.84,168.48 598.85,168.96 598.86,169.45 598.87,169.94 598.88,170.43 598.89,170.91 598.90,171.40 598.95,171.89 599.10,172.37 599.28,172.84 599.44,173.32 599.62,173.80 599.82,174.26 600.05,174.69 600.34,175.09 600.68,175.48 601.03,175.83 601.40,176.16 601.79,176.48 602.19,176.79 602.61,177.08 603.04,177.35 603.48,177.60 603.92,177.81 604.36,177.99 604.82,178.17 605.28,178.34 605.75,178.49 606.23,178.64 606.72,178.77 607.20,178.91 607.70,179.03 608.19,179.16 608.68,179.28 609.17,179.40 609.67,179.52 610.15,179.64 610.64,179.76 611.12,179.88 611.61,180.00 612.10,180.11 612.58,180.22 613.07,180.33 613.56,180.44 614.05,180.55 614.54,180.65 615.03,180.76 615.51,180.86 616.00,180.96 616.49,181.07 616.98,181.17 617.47,181.27 617.96,181.37 618.45,181.47 618.94,181.57 619.43,181.67 619.92,181.78 620.41,181.88 620.90,181.98 621.39,182.09 621.88,182.19 622.37,182.29 622.86,182.39 623.35,182.49 623.84,182.59 624.33,182.68 624.83,182.77 625.32,182.86 625.81,182.94 626.30,183.02 626.80,183.10 627.29,183.17 627.78,183.25 628.28,183.32 628.77,183.39 629.27,183.46 629.77,183.53 630.26,183.60 630.76,183.66 631.25,183.72 631.75,183.78 632.25,183.84 632.75,183.90 633.24,183.95 633.74,184.00 634.24,184.04 634.74,184.08 635.23,184.12 635.73,184.15 636.23,184.19 636.73,184.22 637.23,184.25 637.73,184.28 638.23,184.31 638.72,184.34 639.22,184.37 639.72,184.40 640.22,184.42 640.72,184.45 641.22,184.47 641.72,184.50 642.22,184.52 642.72,184.54 643.22,184.56 643.72,184.58 644.22,184.60 644.72,184.62 645.22,184.64 645.72,184.66 646.22,184.67 646.72,184.69 647.22,184.70 647.72,184.71 648.22,184.73 648.72,184.74 649.22,184.75 649.72,184.76 650.22,184.77 650.72,184.78 651.22,184.79 651.72,184.81 652.22,184.81 652.72,184.82 653.22,184.83 653.72,184.84 654.22,184.85 654.72,184.86 655.22,184.87 655.72,184.88 656.22,184.88 656.72,184.89 657.22,184.90 657.72,184.91 658.22,184.92 658.72,184.92 659.22,184.93 659.72,184.94 660.22,184.95 660.72,184.95 661.22,184.96 661.72,184.97 662.22,184.98 662.72,184.99 663.22,184.99 663.72,185.00 664.22,185.01 664.72,185.02 665.22,185.03 665.72,185.04 666.22,185.04 666.72,185.05 667.22,185.06 667.72,185.07 668.22,185.08 668.72,185.08 669.22,185.09 669.72,185.10 670.22,185.11 670.72,185.12 671.22,185.12 671.72,185.13 672.22,185.14 672.72,185.15 673.22,185.16 673.72,185.16 674.22,185.17 674.72,185.18 675.22,185.19 675.72,185.20 676.22,185.20 676.72,185.21 677.22,185.22 677.72,185.23 678.22,185.24 678.72,185.24 679.22,185.25 679.72,185.26 680.22,185.27 680.72,185.28 681.22,185.28 681.72,185.29 682.22,185.30 682.72,185.31 683.22,185.32 683.72,185.32 684.22,185.33 684.72,185.34 685.22,185.35 685.72,185.36 686.22,185.36 686.72,185.37 687.22,185.38 687.72,185.39 688.21,185.40 688.71,185.40 689.21,185.41 689.71,185.42 690.21,185.43 690.71,185.44 691.21,185.44 691.71,185.45 692.21,185.46 692.71,185.47 693.21,185.48 693.71,185.48 694.21,185.49 694.71,185.50 695.21,185.51 695.71,185.52 696.21,185.52 696.71,185.53 697.21,185.54 697.71,185.55 698.21,185.55 698.71,185.56 699.21,185.57 699.71,185.58 700.21,185.58 700.71,185.59 701.21,185.60 701.71,185.60 702.21,185.61 702.71,185.62 703.21,185.63 703.71,185.63 704.21,185.64 704.71,185.65 705.21,185.65 705.71,185.66 706.21,185.67 706.71,185.67 707.21,185.68 707.71,185.69 708.21,185.69 708.71,185.70 709.21,185.71 709.71,185.71 710.21,185.72 710.71,185.72 711.21,185.73 711.71,185.74 712.21,185.74 712.71,185.75 713.21,185.75 713.71,185.76 714.21,185.76 714.71,185.77 715.21,185.78 715.71,185.78 716.21,185.79 716.71,185.79 717.21,185.80 717.71,185.80 718.21,185.81 718.71,185.81 719.21,185.82 719.71,185.82 720.21,185.83 720.71,185.83 721.21,185.84 721.71,185.84 722.21,185.85 722.71,185.85 723.21,185.86 723.71,185.86 724.21,185.87 724.71,185.87 725.21,185.88 725.71,185.88 726.21,185.89 726.71,185.89 727.21,185.90 727.71,185.90 728.21,185.91 728.71,185.91 729.21,185.92 729.71,185.92 730.21,185.93 730.71,185.93 731.21,185.94 731.71,185.94 732.21,185.95 732.71,185.95 733.21,185.96 733.71,185.96 734.21,185.96 734.71,185.97 735.21,185.97 735.71,185.98 736.21,185.98 736.71,185.99 737.21,185.99 737.71,186.00 738.21,186.00 738.71,186.01 739.21,186.01 739.71,186.02 740.21,186.02 740.71,186.03 741.21,186.03 741.71,186.04 742.21,186.04 742.71,186.04 743.21,186.05 743.71,186.05 744.21,186.06 744.71,186.06 745.21,186.07 745.71,186.07 746.21,186.08 746.71,186.08 747.21,186.09 747.71,186.09 748.21,186.10 748.71,186.10 749.21,186.11 749.71,186.11 750.21,186.12 750.71,186.12 751.21,186.13 751.71,186.13 752.21,186.14 752.71,186.15 753.21,186.15 753.71,186.16 754.21,186.16 754.71,186.17 755.21,186.17 755.71,186.18 756.21,186.18 756.71,186.19 757.21,186.20 757.71,186.20 758.21,186.21 758.71,186.21 759.21,186.22 759.71,186.22 760.21,186.23 760.71,186.24 761.21,186.24 761.71,186.25 762.21,186.26 762.71,186.26 763.21,186.27 763.71,186.28 764.21,186.28 764.71,186.29 765.21,186.29 765.71,186.30 766.21,186.31 766.71,186.31 767.21,186.32 767.71,186.33 768.21,186.33 768.71,186.34 769.21,186.35 769.71,186.36 770.21,186.36 770.71,186.37 771.21,186.38 771.71,186.38 772.21,186.39 772.71,186.40 773.21,186.40 773.71,186.41 774.21,186.42 774.71,186.43 775.21,186.43 775.71,186.44 776.21,186.45 776.71,186.46 777.21,186.46 777.71,186.47 778.21,186.48 778.71,186.48 779.21,186.49 779.71,186.50 780.21,186.51 780.71,186.51 781.21,186.52 781.71,186.53 782.21,186.54 782.71,186.54 783.21,186.55 783.71,186.56 784.21,186.56 784.71,186.57 785.21,186.58 785.71,186.59 786.21,186.59 786.71,186.60 787.21,186.61 787.71,186.61 788.21,186.62 788.71,186.63 789.21,186.64 789.71,186.64 790.21,186.65 790.71,186.66 791.21,186.66 791.71,186.67 792.21,186.68 792.71,186.69 793.21,186.69 793.71,186.70 794.21,186.71 794.71,186.71 795.21,186.72 795.71,186.73 796.21,186.73 796.71,186.74 797.21,186.75 797.71,186.75 798.21,186.76 798.71,186.77 799.21,186.77 799.71,186.78 800.21,186.79 800.71,186.79 801.21,186.80 801.71,186.81 802.21,186.81 802.71,186.82 803.21,186.82 803.71,186.83 804.21,186.84 804.71,186.84 805.21,186.85 805.71,186.85 806.21,186.86 806.71,186.86 807.21,186.87 807.71,186.88 808.21,186.88 808.71,186.89 809.21,186.89 809.71,186.90 810.21,186.90 810.71,186.91 811.21,186.91 811.71,186.92 812.21,186.92 812.71,186.93 813.21,186.93 813.71,186.94 814.21,186.94 814.71,186.95 815.21,186.95 815.71,186.96 816.21,186.96 816.71,186.97 817.21,186.97 817.71,186.98 818.21,186.98 818.71,186.98 819.20,186.99 819.70,186.99 820.20,187.00 820.70,187.00 821.20,187.01 821.70,187.01 822.20,187.02 822.70,187.02 823.20,187.02 823.70,187.03 824.20,187.03 824.70,187.04 825.20,187.04 825.70,187.05 826.20,187.05 826.70,187.05 827.20,187.06 827.70,187.06 828.20,187.07 828.70,187.07 829.20,187.08 829.70,187.08 830.20,187.08 830.70,187.09 831.20,187.09 831.70,187.10 832.20,187.10 832.70,187.10 833.20,187.11 833.70,187.11 834.20,187.12 834.70,187.12 835.20,187.12 835.70,187.13 836.20,187.13 836.70,187.13 837.20,187.14 837.70,187.14 838.20,187.15 838.70,187.15 839.20,187.15 839.70,187.16 840.20,187.16 840.70,187.17 841.20,187.17 841.70,187.17 842.20,187.18 842.70,187.18 843.20,187.18 843.70,187.19 844.20,187.19 844.70,187.20 845.20,187.20 845.70,187.20 846.20,187.21 846.70,187.21 847.20,187.22 847.70,187.22 848.20,187.22 848.70,187.23 849.20,187.23 849.70,187.23 850.20,187.24 850.70,187.24 851.20,187.25 851.70,187.25 852.20,187.25 852.70,187.26 853.20,187.26 853.70,187.27 854.20,187.27 854.70,187.27 855.20,187.28 855.70,187.28 856.20,187.28 856.70,187.29 857.20,187.29 857.70,187.30 858.20,187.30 858.70,187.30 859.20,187.31 859.70,187.31 860.20,187.32 860.70,187.32 861.20,187.32 861.70,187.33 862.20,187.33 862.70,187.34 863.20,187.34 863.70,187.35 864.20,187.35 864.70,187.35 865.20,187.36 865.70,187.36 866.20,187.37 866.70,187.37 867.20,187.38 867.70,187.38 868.20,187.38 868.70,187.39 869.20,187.39 869.70,187.40 870.20,187.40 870.70,187.41 871.20,187.41 871.70,187.42 872.20,187.42 872.70,187.42 873.20,187.43 873.70,187.43 874.20,187.44 874.70,187.44 875.20,187.45 875.70,187.45 876.20,187.46 876.70,187.46 877.20,187.47 877.70,187.47 878.20,187.48 878.70,187.48 879.20,187.49 879.70,187.49 880.20,187.49 880.70,187.50 881.20,187.50 881.70,187.51 882.20,187.51 882.70,187.52 883.20,187.52 883.70,187.53 884.20,187.53 884.70,187.54 885.20,187.54 885.70,187.55 886.20,187.55 886.70,187.56 887.20,187.56 887.70,187.57 888.20,187.57 888.70,187.58 889.20,187.58 889.70,187.59 890.20,187.59 890.70,187.60 891.20,187.60 891.70,187.61 892.20,187.61 892.70,187.62 893.20,187.62 893.70,187.63 894.20,187.63 894.70,187.64 895.20,187.64 895.70,187.65 896.20,187.65 896.70,187.66 897.20,187.66 897.70,187.67 898.20,187.67 898.70,187.68 899.20,187.68 899.70,187.69 900.20,187.69 900.70,187.70 901.20,187.70 901.70,187.71 902.20,187.71 902.70,187.72 903.20,187.72 903.70,187.73 904.20,187.73 904.70,187.74 905.20,187.74 905.70,187.75 906.20,187.75 906.70,187.76 907.20,187.76 907.70,187.77 908.20,187.77 908.70,187.78 909.20,187.78 909.70,187.79 910.20,187.79 910.70,187.80 911.20,187.80 911.70,187.81 912.20,187.81 912.70,187.82 913.20,187.82 913.70,187.83 914.20,187.83 914.70,187.84 915.20,187.84 915.70,187.85 916.20,187.85 916.70,187.86 917.20,187.86 917.70,187.87 918.20,187.87 918.70,187.88 919.20,187.88 919.70,187.89 920.20,187.89 920.70,187.89 921.20,187.90 921.70,187.90 922.20,187.91 922.70,187.91 923.20,187.92 923.70,187.92 924.20,187.93 924.70,187.93 925.20,187.94 925.70,187.94 926.20,187.95 926.70,187.95 927.20,187.96 927.70,187.96 928.20,187.97 928.70,187.97 929.20,187.97 929.70,187.98 930.20,187.98 930.70,187.99 931.20,187.99 931.70,188.00 932.20,188.00 932.70,188.01 933.20,188.01 933.70,188.02 934.20,188.02 934.70,188.02 935.20,188.03 935.70,188.03 936.20,188.04 936.70,188.04 937.20,188.05 937.70,188.05 938.20,188.06 938.70,188.06 939.20,188.06 939.70,188.07 940.20,188.07 940.70,188.08 941.20,188.08 941.70,188.09 942.20,188.09 942.70,188.10 943.20,188.10 943.70,188.10 944.20,188.11 944.70,188.11 945.20,188.12 945.70,188.12 946.20,188.13 946.70,188.13 947.20,188.14 947.70,188.14 948.20,188.14 948.70,188.15 949.20,188.15 949.70,188.16 950.20,188.16 950.70,188.17 951.20,188.17 951.70,188.17 952.20,188.18 952.70,188.18 953.20,188.19 953.70,188.19 954.20,188.20 954.70,188.20 955.20,188.21 955.70,188.21 956.20,188.21 956.70,188.22 957.20,188.22 957.70,188.23 958.20,188.23 958.70,188.24 959.20,188.24 959.70,188.24 960.20,188.25 960.70,188.25 961.20,188.26 961.70,188.26 962.20,188.27 962.70,188.27 963.20,188.27 963.70,188.28 964.20,188.28 964.70,188.29 965.20,188.29 965.70,188.30 966.20,188.30 966.70,188.30 967.20,188.31 967.70,188.31 968.20,188.32 968.70,188.32 969.20,188.33 969.70,188.33 970.20,188.33 970.70,188.34 971.20,188.34 971.70,188.35 972.20,188.35 972.70,188.36 973.20,188.36 973.70,188.36 974.20,188.37 974.70,188.37 975.20,188.38 975.70,188.38 976.20,188.38 976.70,188.39 977.20,188.39 977.70,188.40 978.20,188.40 978.70,188.41 979.20,188.41 979.70,188.41 980.20,188.42 980.70,188.42 981.20,188.43 981.70,188.43 982.20,188.43 982.70,188.44 983.20,188.44 983.70,188.45 984.20,188.45 984.70,188.46 985.20,188.46 985.70,188.46 986.20,188.47 986.70,188.47 987.20,188.48 987.70,188.48 988.20,188.48 988.70,188.49 989.20,188.49 989.70,188.50 990.20,188.50 990.70,188.50 991.20,188.51 991.70,188.51 992.20,188.52 992.70,188.52 993.20,188.52 993.70,188.53 994.20,188.53 994.70,188.54 995.20,188.54 995.70,188.55 996.20,188.55 996.70,188.55 997.20,188.56 997.70,188.56 998.20,188.57 998.70,188.57 999.20,188.57 999.70,188.58 1000.20,188.58 1000.70,188.59 1001.20,188.59 1001.70,188.59 1002.20,188.60 1002.70,188.60 1003.20,188.61 1003.70,188.61 1004.20,188.61 1004.70,188.62 1005.20,188.62 1005.70,188.63 1006.20,188.63 1006.70,188.63 1007.20,188.64 1007.70,188.64 1008.20,188.64 1008.70,188.65 1009.20,188.65 1009.70,188.66 1010.20,188.66 1010.70,188.66 1011.20,188.67 1011.70,188.67 1012.20,188.68 1012.70,188.68 1013.20,188.68 1013.70,188.69 1014.20,188.69 1014.70,188.70 1015.20,188.70 1015.70,188.70 1016.20,188.71 1016.70,188.71 1017.20,188.71 1017.70,188.72 1018.20,188.72 1018.70,188.73 1019.20,188.73 1019.70,188.73 1020.20,188.74 1020.70,188.74 1021.20,188.75 1021.70,188.75 1022.20,188.75 1022.70,188.76 1023.20,188.76 1023.70,188.76 1024.20,188.77 1024.70,188.77 1025.20,188.78 1025.70,188.78 1026.20,188.78 1026.70,188.79 1027.20,188.79 1027.70,188.79 1028.20,188.80 1028.50,188.80"/>
<rect x="577.3" y="10.3" width="472.40" height="187.40" fill="none" stroke="#555555" stroke-width="1.15"/>
<line x1="598.20" y1="197.7" x2="598.20" y2="200.7" stroke="#555555" stroke-width="1.15"/>
<text x="598.20" y="212.55" font-size="9.78" text-anchor="middle">0</text>
<line x1="651.98" y1="197.7" x2="651.98" y2="200.7" stroke="#555555" stroke-width="1.15"/>
<text x="651.98" y="212.55" font-size="9.78" text-anchor="middle">100</text>
<line x1="705.76" y1="197.7" x2="705.76" y2="200.7" stroke="#555555" stroke-width="1.15"/>
<text x="705.76" y="212.55" font-size="9.78" text-anchor="middle">200</text>
<line x1="759.54" y1="197.7" x2="759.54" y2="200.7" stroke="#555555" stroke-width="1.15"/>
<text x="759.54" y="212.55" font-size="9.78" text-anchor="middle">300</text>
<line x1="813.32" y1="197.7" x2="813.32" y2="200.7" stroke="#555555" stroke-width="1.15"/>
<text x="813.32" y="212.55" font-size="9.78" text-anchor="middle">400</text>
<line x1="867.10" y1="197.7" x2="867.10" y2="200.7" stroke="#555555" stroke-width="1.15"/>
<text x="867.10" y="212.55" font-size="9.78" text-anchor="middle">500</text>
<line x1="920.88" y1="197.7" x2="920.88" y2="200.7" stroke="#555555" stroke-width="1.15"/>
<text x="920.88" y="212.55" font-size="9.78" text-anchor="middle">600</text>
<line x1="974.66" y1="197.7" x2="974.66" y2="200.7" stroke="#555555" stroke-width="1.15"/>
<text x="974.66" y="212.55" font-size="9.78" text-anchor="middle">700</text>
<line x1="1028.44" y1="197.7" x2="1028.44" y2="200.7" stroke="#555555" stroke-width="1.15"/>
<text x="1028.44" y="212.55" font-size="9.78" text-anchor="middle">800</text>
<line x1="574.5" y1="190.10" x2="577.3" y2="190.10" stroke="#555555" stroke-width="1.15"/>
<text x="570.20" y="194.00" font-size="9.78" text-anchor="end">0</text>
<line x1="574.5" y1="168.06" x2="577.3" y2="168.06" stroke="#555555" stroke-width="1.15"/>
<text x="570.20" y="171.96" font-size="9.78" text-anchor="end">25000</text>
<line x1="574.5" y1="146.02" x2="577.3" y2="146.02" stroke="#555555" stroke-width="1.15"/>
<text x="570.20" y="149.92" font-size="9.78" text-anchor="end">50000</text>
<line x1="574.5" y1="123.98" x2="577.3" y2="123.98" stroke="#555555" stroke-width="1.15"/>
<text x="570.20" y="127.88" font-size="9.78" text-anchor="end">75000</text>
<line x1="574.5" y1="101.94" x2="577.3" y2="101.94" stroke="#555555" stroke-width="1.15"/>
<text x="570.20" y="105.84" font-size="9.78" text-anchor="end">100000</text>
<line x1="574.5" y1="79.90" x2="577.3" y2="79.90" stroke="#555555" stroke-width="1.15"/>
<text x="570.20" y="83.80" font-size="9.78" text-anchor="end">125000</text>
<line x1="574.5" y1="57.86" x2="577.3" y2="57.86" stroke="#555555" stroke-width="1.15"/>
<text x="570.20" y="61.76" font-size="9.78" text-anchor="end">150000</text>
<line x1="574.5" y1="35.82" x2="577.3" y2="35.82" stroke="#555555" stroke-width="1.15"/>
<text x="570.20" y="39.72" font-size="9.78" text-anchor="end">175000</text>
<line x1="574.5" y1="13.78" x2="577.3" y2="13.78" stroke="#555555" stroke-width="1.15"/>
<text x="570.20" y="17.68" font-size="9.78" text-anchor="end">200000</text>
<text x="813.00" y="227.15" font-size="11.6" text-anchor="middle">Epochs</text>
<text transform="translate(527.2,105.9) rotate(-90)" font-size="11.6" text-anchor="middle">Loss</text>
<rect x="915.2" y="15.6" width="128.20" height="38.9" rx="2" ry="2" fill="#fff" fill-opacity="0.8" stroke="#d8d8d8" stroke-width="1"/>
<line x1="918.70" y1="25" x2="943.60" y2="25" stroke="#0a84c4" stroke-width="1.5"/>
<line x1="918.70" y1="42.7" x2="943.60" y2="42.7" stroke="#ff8210" stroke-width="1.5"/>
<text x="953.00" y="29.9" font-size="11.9">Train loss</text>
<text x="953.00" y="47.4" font-size="11.9">Validation loss</text>
<text x="37.2" y="7.6" font-size="8.7" textLength="15.4" lengthAdjust="spacingAndGlyphs">1e6</text>
<text x="263.8" y="241.5" font-size="14.4" font-family="'Liberation Sans',Arial,sans-serif" stroke-width="0.3">a)</text>
<text x="810.0" y="241.5" font-size="14.4" font-family="'Liberation Sans',Arial,sans-serif" stroke-width="0.3">b)</text>
</g></svg></body></html>
